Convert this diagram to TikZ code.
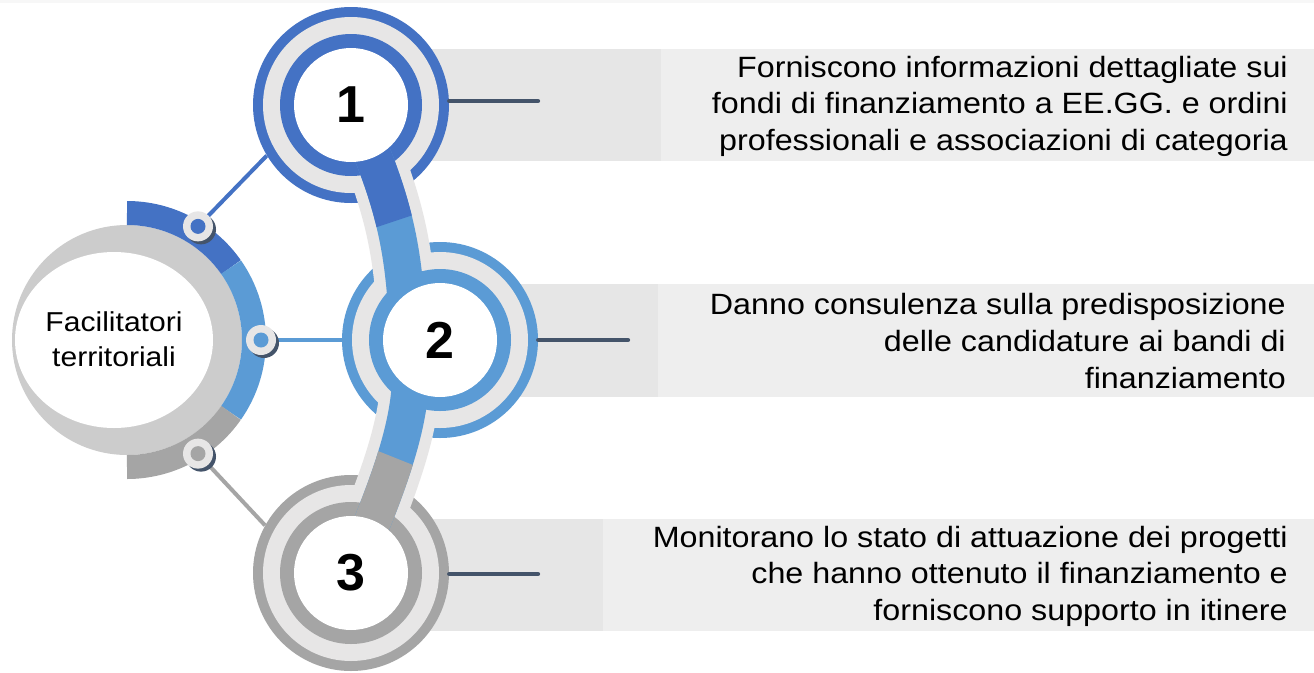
\documentclass[tikz,border=0pt]{standalone}
\usepackage{fontspec}
\setmainfont{Liberation Sans}
\newfontfamily\widefont{Liberation Sans}[FakeStretch=1.1]
\usetikzlibrary{calc}
\definecolor{dkblue}{HTML}{4472C4}
\definecolor{ltblue}{HTML}{5B9BD5}
\definecolor{mdgrey}{HTML}{A5A5A5}
\definecolor{ringgrey}{HTML}{E7E6E6}
\definecolor{boxdark}{HTML}{E6E6E6}
\definecolor{boxlight}{HTML}{EEEEEE}
\definecolor{crescent}{HTML}{CCCCCC}
\definecolor{slate}{HTML}{44546A}
\begin{document}
\begin{tikzpicture}[x=0.75pt,y=-0.75pt,
  outerring/.style={circle, fill=#1, minimum size=147pt, inner sep=0pt},
  numdisc/.style={circle, fill=white, minimum size=85.5pt, inner sep=0pt,
    font=\fontsize{39}{39}\selectfont\bfseries},
  markernode/.style={circle, fill=ringgrey, minimum size=22.5pt, inner sep=0pt},
  boxtext/.style={align=right, inner sep=0pt, anchor=east,
    font=\widefont\fontsize{22}{27.4}\selectfont},
  tick/.style={slate, line width=3.2pt, line cap=round},
  spoke/.style={#1, line width=3pt},
  bandline/.style={ringgrey, line width=45pt},
  stemline/.style={#1, line width=27.75pt}
]
\useasboundingbox (0,0) rectangle (1314,672);
\fill[white] (0,0) rectangle (1314,672);
\fill[black!3] (0,0) rectangle (1314,3);

\coordinate (c1) at (351,105);
\coordinate (c2) at (440,340);
\coordinate (c3) at (351,573);
\coordinate (L) at (127,340);

% text boxes
\fill[boxdark] (351,49) rectangle (661,161);
\fill[boxlight] (661,49) rectangle (1314,161);
\fill[boxdark] (440,284) rectangle (658,397);
\fill[boxlight] (658,284) rectangle (1314,397);
\fill[boxdark] (351,519) rectangle (603,631);
\fill[boxlight] (603,519) rectangle (1314,631);

% left hub
\fill[crescent] (L) circle[radius=115];
\draw[dkblue, line width=18pt] (L) ++(-90:127) arc[start angle=-90, end angle=-35, radius=127];
\draw[ltblue, line width=18pt] (L) ++(-35:127) arc[start angle=-35, end angle=35, radius=127];
\draw[mdgrey, line width=18pt] (L) ++(35:127) arc[start angle=35, end angle=90, radius=127];
\fill[white] (114,340) ellipse[x radius=99, y radius=88];
\node[font=\widefont\fontsize{20.5}{26.25}\selectfont, align=center, inner sep=0pt] (fac) at (114,339) {Facilitatori\\territoriali};

% outer rings
\node[outerring=dkblue] (ring1) at (c1) {};
\node[outerring=ltblue] (ring2) at (c2) {};
\node[outerring=mdgrey] (ring3) at (c3) {};
\fill[ringgrey] (c1) circle[radius=88];
\fill[ringgrey] (c2) circle[radius=88];
\fill[ringgrey] (c3) circle[radius=88];

% grey band
\draw[bandline] (c1) .. controls (395,200) and (405,250) .. (408,340)
  .. controls (418,400) and (400,460) .. (c3);

% inner rings
\fill[dkblue] (c1) circle[radius=71];
\fill[ltblue] (c2) circle[radius=71];
\fill[mdgrey] (c3) circle[radius=71];

% stem
\draw[stemline=ltblue] (c1) .. controls (395,200) and (405,250) .. (408,340)
  .. controls (418,400) and (400,460) .. (c3);
\begin{scope}
\clip (300,0) -- (500,0) -- (500,186) -- (300,252.7) -- cycle;
\draw[stemline=dkblue] (c1) .. controls (395,200) and (405,250) .. (408,340);
\end{scope}
\begin{scope}
\clip (300,419.8) -- (500,499.8) -- (500,672) -- (300,672) -- cycle;
\draw[stemline=mdgrey] (408,340) .. controls (418,400) and (400,460) .. (c3);
\end{scope}

% number discs
\node[numdisc] (n1) at (c1) {1};
\node[numdisc] (n2) at (c2) {2};
\node[numdisc] (n3) at (c3) {3};

% markers and spokes
\coordinate (p1) at ($(L)+(-58:134)$);
\coordinate (p2) at ($(L)+(0:134)$);
\coordinate (p3) at ($(L)+(58:134)$);
\draw[spoke=dkblue] (p1) -- (ring1.211);
\draw[spoke=ltblue] (p2) -- (ring2.west);
\draw[spoke=mdgrey] (p3) -- (ring3.151);
\foreach \p in {p1,p2,p3}{
  \fill[slate] ($(\p)+(3,3)$) circle[radius=15];
}
\node[markernode] (m1) at (p1) {};
\node[markernode] (m2) at (p2) {};
\node[markernode] (m3) at (p3) {};
\fill[dkblue] (m1.center) circle[radius=7.5];
\fill[ltblue] (m2.center) circle[radius=7.5];
\fill[mdgrey] (m3.center) circle[radius=7.5];

% ticks to text
\coordinate (k1) at (538,101);
\coordinate (k2) at (628,340);
\coordinate (k3) at (538,574);
\draw[tick] (ring1.east |- k1) -- (k1);
\draw[tick] (ring2.east |- k2) -- (k2);
\draw[tick] (ring3.east |- k3) -- (k3);

% texts
\node[boxtext] (t1) at (1288,106) {Forniscono informazioni dettagliate sui\\fondi di finanziamento a EE.GG. e ordini\\professionali e associazioni di categoria};
\node[boxtext] (t2) at (1286,341) {Danno consulenza sulla predisposizione\\delle candidature ai bandi di\\finanziamento};
\node[boxtext] (t3) at (1288,576) {Monitorano lo stato di attuazione dei progetti\\che hanno ottenuto il finanziamento e\\forniscono supporto in itinere};
\end{tikzpicture}
\end{document}
